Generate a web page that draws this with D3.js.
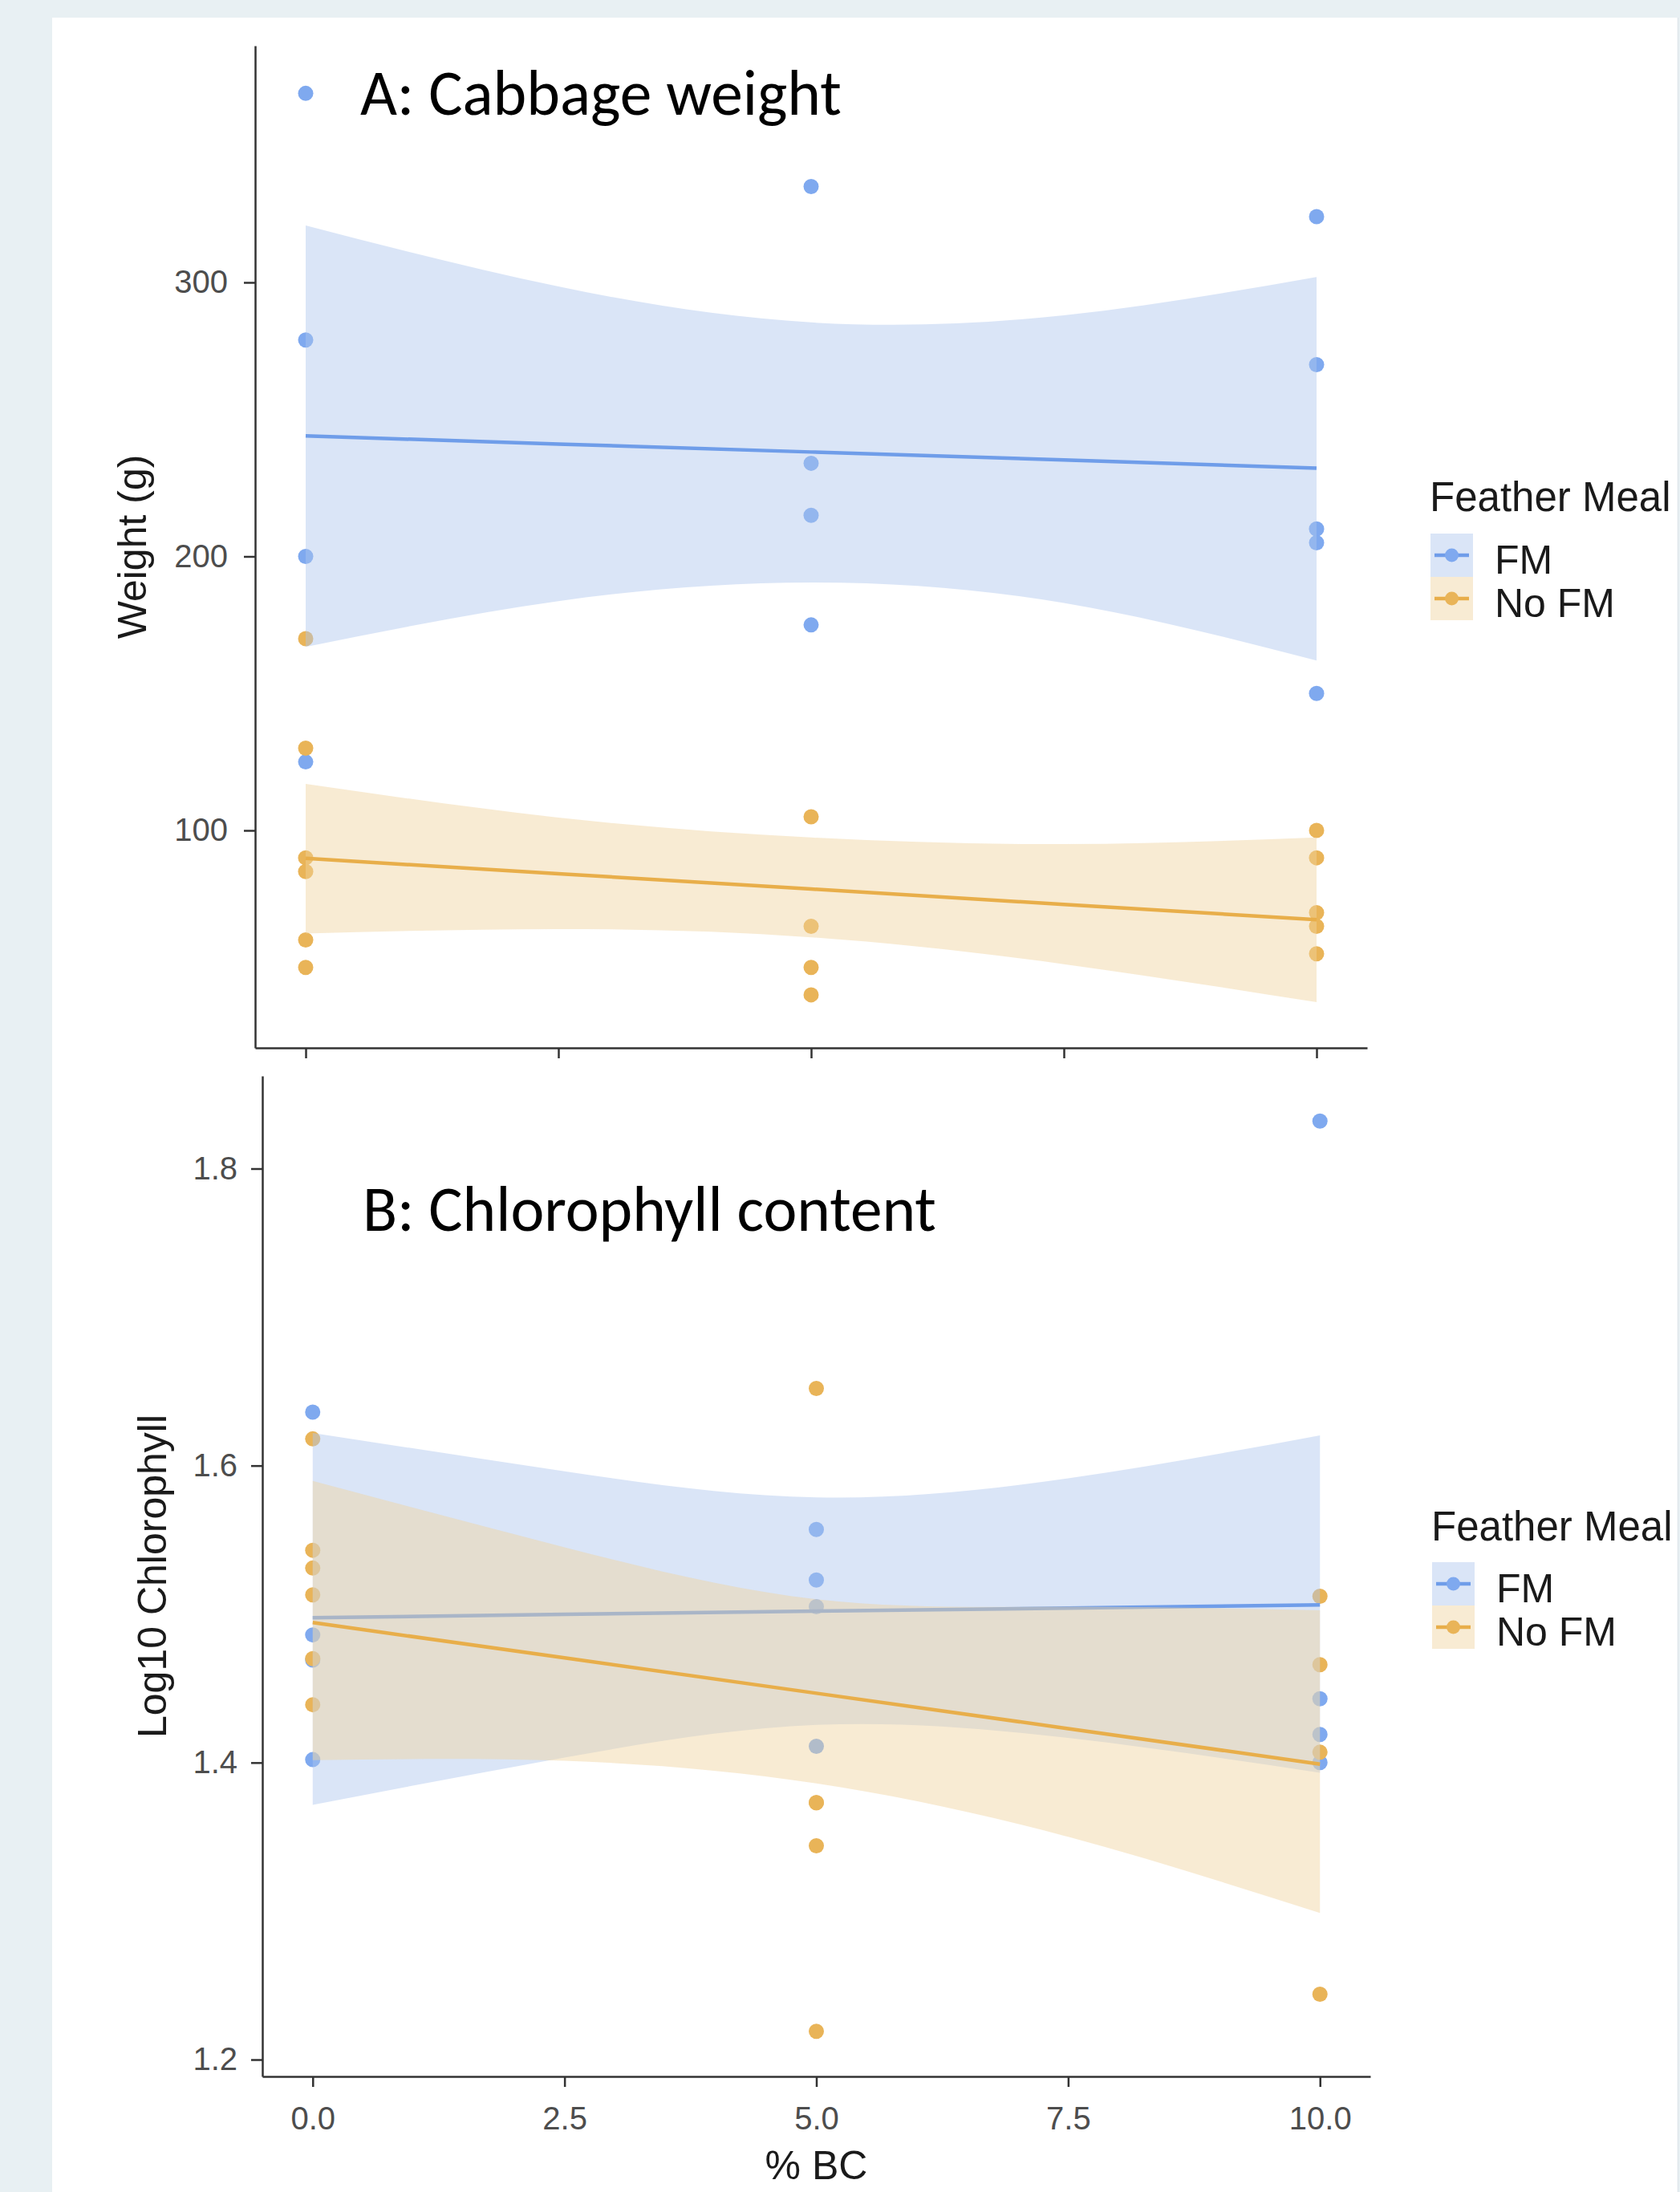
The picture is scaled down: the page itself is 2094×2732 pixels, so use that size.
<!DOCTYPE html>
<html><head><meta charset="utf-8">
<script src="https://cdn.jsdelivr.net/npm/d3@7"></script>
<style>html,body{margin:0;padding:0;background:#fff;} svg{display:block;}</style>
</head><body>
<script>
// ---------- DATA ----------
const groups = ["FM", "No FM"];
// Panel A: cabbage weight (g)
const bcWeightFM   = [0, 0, 0, 0, 5, 5, 5, 5, 10, 10, 10, 10, 10];
const weightFM     = [369, 279, 200, 125, 335, 234, 215, 175, 324, 270, 210, 205, 150];
const bcWeightNoFM = [0, 0, 0, 0, 0, 0, 5, 5, 5, 5, 10, 10, 10, 10, 10];
const weightNoFM   = [170, 130, 90, 85, 60, 50, 105, 65, 50, 40, 100, 90, 70, 65, 55];
// Panel B: log10 chlorophyll
const bcChlFM   = [0, 0, 0, 0, 5, 5, 5, 5, 10, 10, 10, 10];
const chlFM     = [1.636, 1.486, 1.469, 1.402, 1.557, 1.523, 1.505, 1.411, 1.832, 1.443, 1.419, 1.400];
const bcChlNoFM = [0, 0, 0, 0, 0, 0, 5, 5, 5, 5, 5, 10, 10, 10, 10];
const chlNoFM   = [1.618, 1.543, 1.531, 1.513, 1.470, 1.439, 1.652, 1.373, 1.373, 1.344, 1.219, 1.512, 1.466, 1.407, 1.244];
// Fitted lines and confidence bands (read at these %BC values)
const fitX = [0, 2.5, 5, 7.5, 10];
const weightFitFM   = [244, 241, 238.1, 235.2, 232.2];
const weightLoFM    = [167, 183.7, 190.5, 183, 162];
const weightHiFM    = [320.8, 298.5, 285.4, 288, 302];
const weightFitNoFM = [89.8, 84.2, 78.6, 73, 67.4];
const weightLoNoFM  = [62.4, 64, 61, 51.2, 37.3];
const weightHiNoFM  = [117, 104.7, 97.4, 95, 97.4];
const chlFitFM   = [1.4976, 1.4998, 1.502, 1.504, 1.5062];
const chlLoFM    = [1.3716, 1.4034, 1.4254, 1.4166, 1.3932];
const chlHiFM    = [1.622, 1.5962, 1.5786, 1.5914, 1.6204];
const chlFitNoFM = [1.4943, 1.4705, 1.4467, 1.4229, 1.399];
const chlLoNoFM  = [1.4017, 1.4012, 1.386, 1.350, 1.2987];
const chlHiNoFM  = [1.5897, 1.545, 1.510, 1.505, 1.5025];
// Ticks
const xTicks = [0, 2.5, 5, 7.5, 10];
const weightTicks = [100, 200, 300];
const chlTicks = [1.2, 1.4, 1.6, 1.8];

// ---------- STYLE ----------
const W = 2094, H = 2732;
const col = {
  FM:    {line: "#6f9de9", point: "#7fa9ef", fill: "rgba(173,197,237,0.45)"},
  "No FM": {line: "#e8ae4a", point: "#e9b458", fill: "rgba(239,211,157,0.45)"}
};
const axisCol = "#333333", tickTextCol = "#4d4d4d", textCol = "#1a1a1a";
const sansFont = "'Liberation Sans', Arial, sans-serif";

const svg = d3.select("body").append("svg").attr("width", W).attr("height", H);
svg.append("rect").attr("width", W).attr("height", H).attr("fill", "#e8f0f3");
svg.append("rect").attr("x", 65).attr("y", 22).attr("width", 2026).attr("height", H - 22).attr("fill", "#ffffff");
svg.append("line").attr("x1", 2091.5).attr("x2", 2091.5).attr("y1", 22).attr("y2", H)
  .attr("stroke", "#dfe6ea").attr("stroke-width", 1.5);

function zip(xa, ya) { return xa.map((x, i) => ({x: x, y: ya[i]})); }
function band(lo, fit, hi) { return fitX.map((x, i) => ({x: x, lo: lo[i], fit: fit[i], hi: hi[i]})); }

function drawPanel(cfg) {
  const x = d3.scaleLinear().domain([-0.5, 10.5]).range(cfg.xRange);
  const y = d3.scaleLinear().domain(cfg.yDomain).range(cfg.yRange);
  const g = svg.append("g");

  // points (under the smoothers, as in ggplot layer order)
  cfg.series.forEach(s => {
    g.append("g").selectAll("circle").data(s.points).join("circle")
      .attr("cx", d => x(d.x)).attr("cy", d => y(d.y)).attr("r", 9.5)
      .attr("fill", col[s.name].point);
  });
  // ribbons + lines per group
  cfg.series.forEach(s => {
    const area = d3.area().x(d => x(d.x)).y0(d => y(d.lo)).y1(d => y(d.hi)).curve(d3.curveNatural);
    g.append("path").datum(s.band).attr("d", area).attr("fill", col[s.name].fill);
    const line = d3.line().x(d => x(d.x)).y(d => y(d.fit));
    g.append("path").datum(s.band).attr("d", line).attr("fill", "none")
      .attr("stroke", col[s.name].line).attr("stroke-width", 4.5);
  });

  // axes
  const yAx = d3.axisLeft(y).tickValues(cfg.yTicks).tickSize(14).tickSizeOuter(0)
    .tickPadding(cfg.yPad).tickFormat(cfg.yFmt);
  const gy = svg.append("g").attr("transform", `translate(${cfg.xRange[0]},0)`).call(yAx);
  const xAx = d3.axisBottom(x).tickValues(xTicks).tickSize(13).tickSizeOuter(0)
    .tickPadding(25).tickFormat(cfg.xFmt);
  const gx = svg.append("g").attr("transform", `translate(0,${cfg.yRange[0]})`).call(xAx);
  [gx, gy].forEach(a => {
    a.attr("font-family", sansFont).attr("font-size", 40);
    a.select(".domain").attr("stroke", axisCol).attr("stroke-width", 2.5);
    a.selectAll(".tick line").attr("stroke", axisCol).attr("stroke-width", 2.5);
    a.selectAll(".tick text").attr("fill", tickTextCol);
  });

  // y-axis title
  svg.append("text").attr("transform", `translate(${cfg.yTitleX},${(cfg.yRange[0] + cfg.yRange[1]) / 2}) rotate(-90)`)
    .attr("text-anchor", "middle").attr("font-family", sansFont).attr("font-size", 50)
    .attr("fill", textCol).text(cfg.yTitle);

  // panel title
  const t = svg.append("text").attr("x", cfg.titleX).attr("y", cfg.titleY)
    .attr("font-family", "Carlito, Lato, sans-serif").attr("font-size", 71)
    .attr("fill", "#000").text(cfg.title);
  const wNow = t.node().getComputedTextLength();
  t.attr("font-size", 71 * cfg.titleW / wNow);

  // legend
  const lg = svg.append("g").attr("font-family", sansFont);
  lg.append("text").attr("x", cfg.legX).attr("y", cfg.legTitleY).attr("font-size", 51)
    .attr("fill", textCol).text("Feather Meal");
  groups.forEach((name, i) => {
    const ky = cfg.legKeyY + i * 54;
    lg.append("rect").attr("x", cfg.legX + 1).attr("y", ky).attr("width", 53).attr("height", 54)
      .attr("fill", col[name].fill);
    lg.append("line").attr("x1", cfg.legX + 6).attr("x2", cfg.legX + 49)
      .attr("y1", ky + 27).attr("y2", ky + 27).attr("stroke", col[name].line).attr("stroke-width", 4.5);
    lg.append("circle").attr("cx", cfg.legX + 27.5).attr("cy", ky + 27).attr("r", 8.5).attr("fill", col[name].point);
    lg.append("text").attr("x", cfg.legX + 81).attr("y", ky + 50).attr("font-size", 50)
      .attr("fill", textCol).text(name);
  });
  return x;
}

// Panel A
drawPanel({
  xRange: [318, 1704], yDomain: [20.64, 386.38], yRange: [1306, 57],
  yTicks: weightTicks, yFmt: d3.format("d"), yPad: 20, xFmt: () => "",
  yTitle: "Weight (g)", yTitleX: 182,
  title: "A: Cabbage weight", titleX: 449, titleY: 143, titleW: 600,
  legX: 1782, legTitleY: 637, legKeyY: 665,
  series: [
    {name: "FM", points: zip(bcWeightFM, weightFM), band: band(weightLoFM, weightFitFM, weightHiFM)},
    {name: "No FM", points: zip(bcWeightNoFM, weightNoFM), band: band(weightLoNoFM, weightFitNoFM, weightHiNoFM)}
  ]
});

// Panel B
drawPanel({
  xRange: [327, 1708], yDomain: [1.18865, 1.8624], yRange: [2588, 1341],
  yTicks: chlTicks, yFmt: d3.format(".1f"), yPad: 17, xFmt: d3.format(".1f"),
  yTitle: "Log10 Chlorophyll", yTitleX: 207,
  title: "B: Chlorophyll content", titleX: 452, titleY: 1534, titleW: 715,
  legX: 1784, legTitleY: 1920, legKeyY: 1947,
  series: [
    {name: "FM", points: zip(bcChlFM, chlFM), band: band(chlLoFM, chlFitFM, chlHiFM)},
    {name: "No FM", points: zip(bcChlNoFM, chlNoFM), band: band(chlLoNoFM, chlFitNoFM, chlHiNoFM)}
  ]
});

// x-axis title (bottom) – kept fully inside the picture
svg.append("text").attr("x", (327 + 1708) / 2).attr("y", 2716).attr("text-anchor", "middle")
  .attr("font-family", sansFont).attr("font-size", 50).attr("fill", textCol).text("% BC");
</script>
</body></html>
